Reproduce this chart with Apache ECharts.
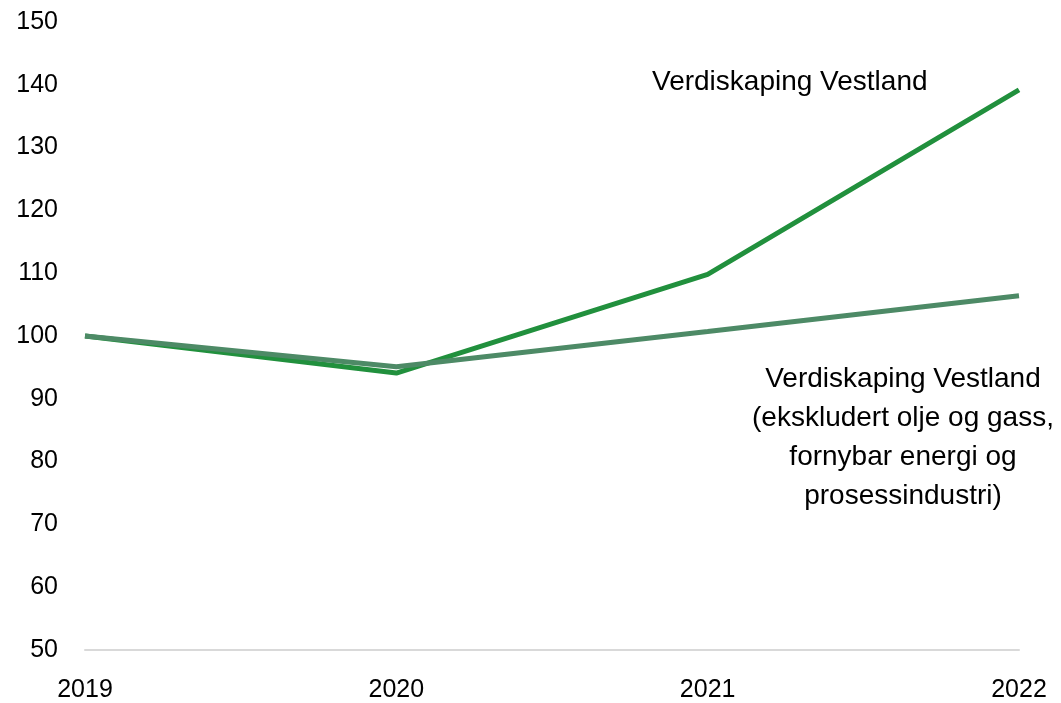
<!DOCTYPE html>
<html lang="no">
<head>
    <meta charset="UTF-8">
    <title>Verdiskaping Vestland</title>
    <script src="https://cdn.jsdelivr.net/npm/echarts@6/dist/echarts.min.js"></script>
    <style>
        body { margin: 0; background: #fff; }
    </style>
</head>
<body>
    <div id="main" style="width: 1061px;height:703px;"></div>
    <script type="text/javascript">
        // data (index 2019 = 100)
        const years = ['2019', '2020', '2021', '2022'];
        const vestland = [100, 94.1, 109.8, 139.2];
        const vestlandEks = [100, 95.1, 100.7, 106.4];

        const labelFont = 'Liberation Sans, Arial, sans-serif';

        let myChart = echarts.init(document.getElementById('main'));

        let options = {
            animation: false,
            grid: { left: 85, right: 42, top: 22, bottom: 51 },
            xAxis: {
                type: 'category',
                data: years,
                boundaryGap: false,
                axisLine: { lineStyle: { color: '#d9d9d9', width: 2 } },
                axisTick: { show: false },
                axisLabel: { color: '#000', fontSize: 25, fontFamily: labelFont, margin: 28 }
            },
            yAxis: {
                type: 'value',
                min: 50,
                max: 150,
                interval: 10,
                axisLine: { show: false },
                axisTick: { show: false },
                splitLine: { show: false },
                axisLabel: { color: '#000', fontSize: 25, fontFamily: labelFont, margin: 27 }
            },
            series: [
                {
                    name: 'Verdiskaping Vestland',
                    type: 'line',
                    data: vestland,
                    symbol: 'none',
                    lineStyle: { color: '#21903d', width: 5 }
                },
                {
                    name: 'Verdiskaping Vestland (ekskludert olje og gass, fornybar energi og prosessindustri)',
                    type: 'line',
                    data: vestlandEks,
                    symbol: 'none',
                    lineStyle: { color: '#4d8a66', width: 5 }
                }
            ],
            graphic: [
                {
                    type: 'text',
                    left: 652,
                    top: 68,
                    style: {
                        text: 'Verdiskaping Vestland',
                        font: '28px ' + labelFont,
                        fill: '#000'
                    }
                },
                {
                    type: 'text',
                    x: 903,
                    y: 360,
                    style: {
                        text: 'Verdiskaping Vestland\n(ekskludert olje og gass,\nfornybar energi og\nprosessindustri)',
                        font: '28px ' + labelFont,
                        fill: '#000',
                        align: 'center',
                        lineHeight: 38.8
                    }
                }
            ]
        };

        myChart.setOption(options);
    </script>
</body>
</html>
